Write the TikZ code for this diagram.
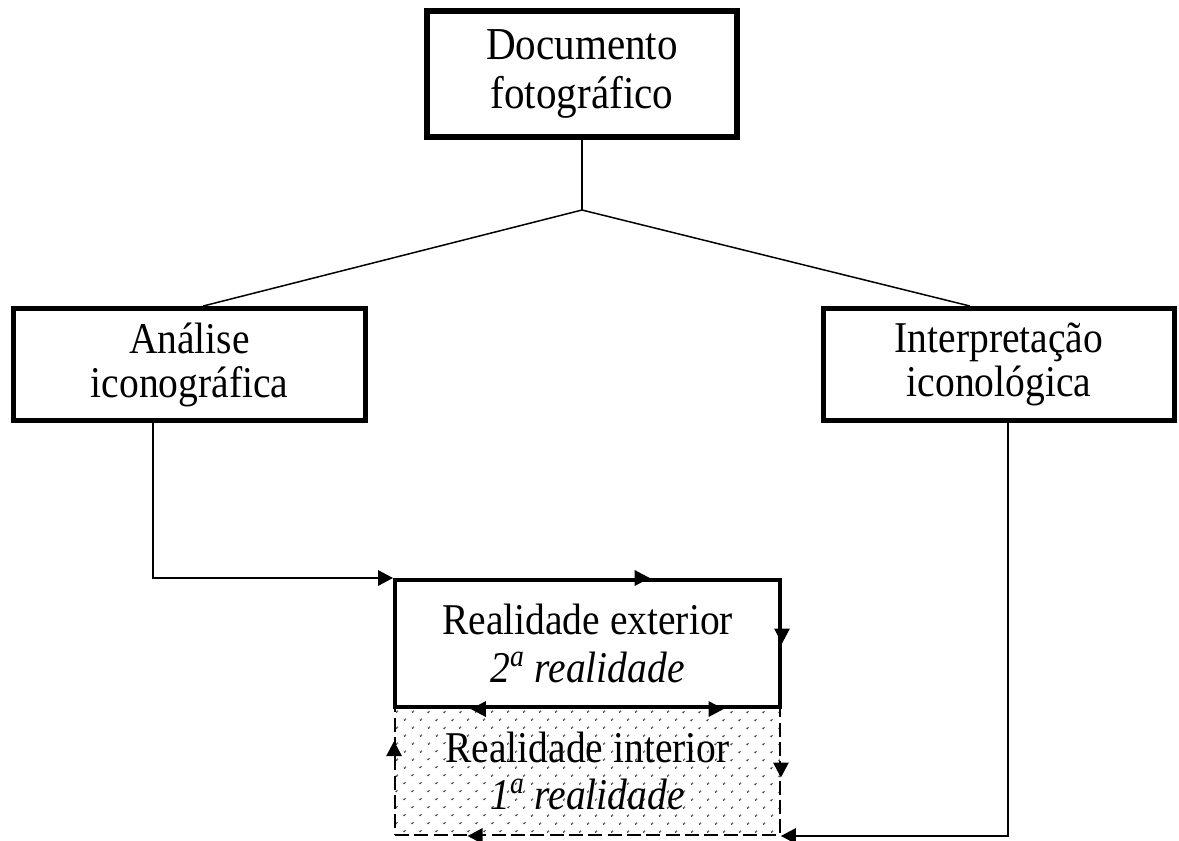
\documentclass[tikz,border=0pt]{standalone}
\usepackage{fontspec}
\setmainfont{Liberation Serif}[FakeStretch=0.9]
\usetikzlibrary{arrows.meta,positioning,calc,decorations.markings,patterns.meta}
\newcommand{\boxfont}[2]{\fontsize{#1}{#2}\selectfont}

\begin{document}
\begin{tikzpicture}[
 x=0.02cm,y=-0.02cm,font=\boxfont{25}{27},
 box/.style={draw=black,line width=2.8pt,align=center,inner sep=0pt},
 side/.style={box,minimum width=7.03cm,minimum height=2.24cm,
   font=\boxfont{25}{25}},
 link/.style={line width=0.85pt},
 flow/.style={link,-{Triangle[length=3mm,width=3.1mm]}},
 edgetip/.style={line width=0.85pt,postaction={decorate},
   decoration={markings,mark=at position #1 with
   {\arrow{Triangle[length=3mm,width=3.1mm]}}}},
 dotted area/.style={draw=black,line width=1.1pt,dash pattern=on 8pt off 3pt,
   pattern={Dots[distance=6.4pt,angle=45,radius=0.65pt]},pattern color=black!85,
   align=center,inner sep=0pt}]
\useasboundingbox (0,0) rectangle (1179,840);
\node[box,line width=3.4pt,minimum width=6.2cm,minimum height=2.52cm,
 font=\boxfont{26}{27.5}] (doc) at (582,74) {Documento\\fotográfico};
\node[side] (ana) at (189.5,364.5) {Análise\\iconográfica};
\node[side] (int) at (999,364.5) {Interpretação\\iconológica};
\node[dotted area,minimum width=7.7cm,minimum height=2.56cm] (inn) at (587.5,771)
 {Realidade interior\\\textit{1\textsuperscript{a} realidade}};
\node[box,line width=2.3pt,minimum width=7.7cm,minimum height=2.54cm] (ext)
 at (587.5,643.5) {Realidade exterior\\\textit{2\textsuperscript{a} realidade}};
\coordinate (split) at (doc.south |- 0,210);
\draw[link] (doc.south) -- (split);
\draw[link] (split) -- (ana.north -| 203,0);
\draw[link] (split) -- (int.north -| 970,0);
\draw[flow] (ana.south -| 153,0) |- (ext.north west);
\draw[flow] (int.south -| 1008,0) |- (inn.south east);
\path[edgetip=0.66] (ext.north west) -- (ext.north east);
\path[edgetip=0.5] (ext.north east) -- (ext.south east);
\path[edgetip=0.85] (ext.south west) -- (ext.south east);
\path[edgetip=0.8] (ext.south east) -- (ext.south west);
\path[edgetip=0.73] (inn.south west) -- (inn.north west);
\path[edgetip=0.55] (inn.north east) -- (inn.south east);
\path[edgetip=0.81] (inn.south east) -- (inn.south west);
\end{tikzpicture}
\end{document}
